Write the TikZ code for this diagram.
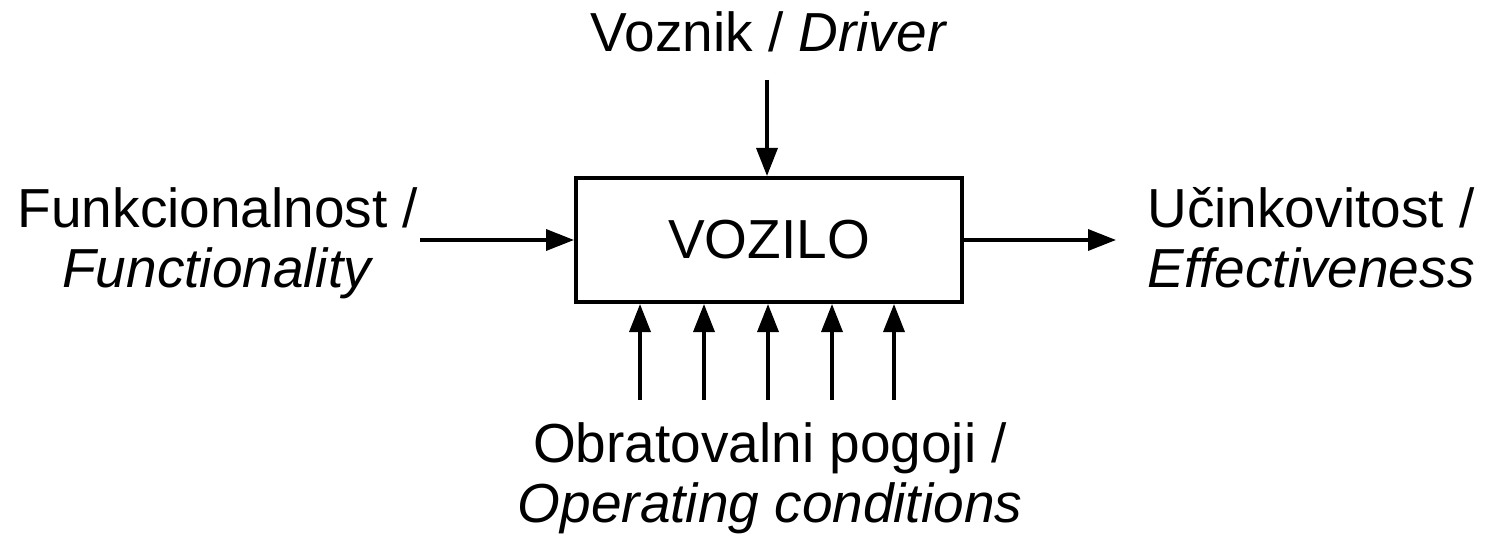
\documentclass[tikz,border=0pt]{standalone}
\usepackage{fontspec}
\setmainfont{Liberation Sans}
\usetikzlibrary{arrows.meta}
\begin{document}
\begin{tikzpicture}[x=1pt,y=-1pt,
  lbl/.style={font=\fontsize{55}{60}\selectfont, align=center, inner sep=0pt},
  conn/.style={line width=3.5pt, -{Triangle[length=28pt,width=21pt]}},
  blk/.style={draw, line width=4pt, minimum width=386pt, minimum height=124pt, inner sep=0pt, font=\fontsize{55}{60}\selectfont}]
\useasboundingbox (0,0) rectangle (1490,534);
\node[blk] (box) at (769,240) {VOZILO};
\node[lbl, anchor=base] (drv) at (769,52) {Voznik / \textit{Driver}};
\node[lbl, anchor=base] (fun) at (218,288) {Funkcionalnost /\\\textit{Functionality}};
\node[lbl, anchor=base] (eff) at (1311,288) {Učinkovitost /\\\textit{Effectiveness}};
\node[lbl, anchor=base] (opc) at (770,522) {Obratovalni pogoji /\\\textit{Operating conditions}};
\coordinate (t0) at (767,80);
\coordinate (l0) at (420,240);
\coordinate (r1) at (1116,240);
\draw[conn] (t0) -- (t0 |- box.north);
\draw[conn] (l0) -- (box.west);
\draw[conn] (box.east) -- (r1);
\foreach \x [count=\i] in {640,704,768,832,894} {
  \coordinate (b\i) at (\x,400);
  \draw[conn] (b\i) -- (b\i |- box.south);
}
\end{tikzpicture}
\end{document}
